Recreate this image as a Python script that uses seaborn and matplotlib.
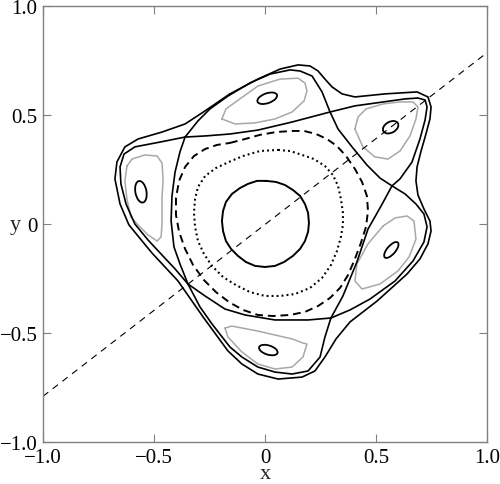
import matplotlib
matplotlib.use("Agg")
import matplotlib.pyplot as plt
import seaborn as sns
from matplotlib.patches import Ellipse

# --- invariant curves (data units) ---
inner_x = [0.005, 0.050, 0.090, 0.126, 0.158, 0.180, 0.194, 0.198, 0.194, 0.180, 0.158, 0.126,
           0.086, 0.045, 0.000, -0.045, -0.086, -0.122, -0.153, -0.176, -0.189, -0.194,
           -0.189, -0.176, -0.149, -0.113, -0.077, -0.036]
inner_y = [0.200, 0.195, 0.181, 0.158, 0.131, 0.094, 0.053, 0.007, -0.034, -0.076, -0.112,
           -0.144, -0.172, -0.190, -0.195, -0.190, -0.172, -0.144, -0.112, -0.076, -0.030,
           0.016, 0.062, 0.103, 0.140, 0.167, 0.186, 0.200]

dotted_x = [0.059, 0.113, 0.167, 0.221, 0.270, 0.306, 0.329, 0.342, 0.351, 0.351, 0.342, 0.324,
            0.297, 0.257, 0.203, 0.135, 0.068, 0.000, -0.068, -0.131, -0.189, -0.239, -0.275,
            -0.302, -0.315, -0.320, -0.315, -0.302, -0.270, -0.221, -0.162, -0.099, -0.023]
dotted_y = [0.342, 0.337, 0.319, 0.300, 0.268, 0.227, 0.177, 0.117, 0.053, -0.002, -0.057,
            -0.122, -0.186, -0.245, -0.291, -0.319, -0.328, -0.328, -0.310, -0.278, -0.241,
            -0.190, -0.135, -0.076, -0.011, 0.053, 0.117, 0.172, 0.222, 0.259, 0.287, 0.314,
            0.337]

dashed_x = [-0.158, -0.090, -0.023, 0.050, 0.122, 0.176, 0.230, 0.279, 0.324, 0.365, 0.405,
            0.437, 0.459, 0.464, 0.455, 0.432, 0.405, 0.374, 0.338, 0.293, 0.239, 0.180,
            0.113, 0.036, -0.032, -0.099, -0.162, -0.221, -0.275, -0.324, -0.360, -0.387,
            -0.401, -0.401, -0.387, -0.360, -0.320, -0.270, -0.216]
dashed_y = [0.374, 0.392, 0.411, 0.424, 0.429, 0.429, 0.415, 0.392, 0.360, 0.314, 0.255,
            0.195, 0.131, 0.062, -0.011, -0.085, -0.158, -0.232, -0.291, -0.337, -0.374,
            -0.401, -0.415, -0.420, -0.415, -0.392, -0.356, -0.310, -0.255, -0.186, -0.112,
            -0.034, 0.044, 0.122, 0.200, 0.264, 0.314, 0.346, 0.365]

outer_x = [-0.158, -0.032, 0.068, 0.149, 0.203, 0.239, 0.270, 0.302, 0.347, 0.405, 0.541,
           0.685, 0.734, 0.748, 0.743, 0.725, 0.703, 0.685, 0.680, 0.689, 0.716, 0.743,
           0.748, 0.734, 0.698, 0.640, 0.505, 0.383, 0.320, 0.270, 0.225, 0.167, 0.059,
           -0.032, -0.104, -0.167, -0.279, -0.392, -0.509, -0.613, -0.653, -0.676, -0.667,
           -0.631, -0.572, -0.464, -0.360, -0.270]
outer_y = [0.599, 0.667, 0.713, 0.732, 0.727, 0.704, 0.667, 0.631, 0.599, 0.585, 0.599,
           0.608, 0.585, 0.539, 0.484, 0.415, 0.337, 0.264, 0.200, 0.135, 0.071, 0.016,
           -0.030, -0.089, -0.158, -0.227, -0.351, -0.447, -0.525, -0.608, -0.672, -0.700,
           -0.709, -0.686, -0.640, -0.580, -0.424, -0.259, -0.131, -0.002, 0.094, 0.209,
           0.287, 0.356, 0.392, 0.424, 0.461, 0.521]

# separatrix arcs between the five hyperbolic points
sep_arcs = {
    "top_in": ([-0.360, -0.270, -0.158, -0.032, 0.122, 0.293],
               [0.401, 0.406, 0.415, 0.433, 0.470, 0.516]),
    "top_out": ([0.293, 0.257, 0.212, 0.158, 0.113, 0.023, -0.068, -0.167, -0.248, -0.302, -0.360],
                [0.516, 0.608, 0.681, 0.704, 0.709, 0.690, 0.649, 0.589, 0.530, 0.475, 0.401]),
    "ur_in": ([0.572, 0.518, 0.459, 0.392, 0.329, 0.293],
              [0.177, 0.213, 0.273, 0.356, 0.438, 0.516]),
    "ur_out": ([0.293, 0.405, 0.532, 0.631, 0.689, 0.721, 0.730, 0.721, 0.698, 0.662, 0.608, 0.572],
               [0.516, 0.544, 0.562, 0.576, 0.580, 0.571, 0.539, 0.479, 0.392, 0.286, 0.209, 0.177]),
    "lr_in": ([0.572, 0.523, 0.464, 0.414, 0.351, 0.297],
              [0.177, 0.085, -0.021, -0.172, -0.328, -0.429]),
    "lr_out": ([0.297, 0.383, 0.473, 0.586, 0.667, 0.716, 0.730, 0.716, 0.680, 0.631, 0.572],
               [-0.429, -0.392, -0.342, -0.259, -0.167, -0.080, -0.011, 0.048, 0.094, 0.140, 0.177]),
    "bot_in": ([-0.347, -0.270, -0.180, -0.090, 0.045, 0.194, 0.297],
               [-0.273, -0.328, -0.388, -0.415, -0.438, -0.438, -0.429]),
    "bot_out": ([0.297, 0.270, 0.248, 0.194, 0.122, 0.045, -0.032, -0.104, -0.158, -0.239, -0.293, -0.347],
                [-0.429, -0.516, -0.608, -0.672, -0.686, -0.677, -0.654, -0.608, -0.562, -0.456, -0.378, -0.273]),
    "left_in": ([-0.360, -0.383, -0.405, -0.419, -0.423, -0.410, -0.383, -0.347],
                [0.401, 0.333, 0.241, 0.131, 0.016, -0.103, -0.181, -0.273]),
    "left_out": ([-0.347, -0.405, -0.464, -0.527, -0.586, -0.626, -0.649, -0.653, -0.635, -0.586, -0.473, -0.360],
                 [-0.273, -0.204, -0.140, -0.071, 0.002, 0.094, 0.186, 0.264, 0.323, 0.356, 0.378, 0.401]),
}

# gray island boundaries
island_curves = {
    "top": ([-0.194, -0.176, -0.113, -0.032, 0.068, 0.149, 0.180, 0.189, 0.176, 0.122, 0.045, -0.045, -0.135],
            [0.484, 0.530, 0.576, 0.635, 0.667, 0.671, 0.649, 0.612, 0.567, 0.516, 0.484, 0.466, 0.461]),
    "ur": ([0.405, 0.419, 0.455, 0.532, 0.608, 0.667, 0.689, 0.680, 0.653, 0.608, 0.554, 0.495, 0.441],
           [0.438, 0.493, 0.530, 0.553, 0.562, 0.562, 0.539, 0.484, 0.406, 0.337, 0.300, 0.310, 0.356]),
    "lr": ([0.532, 0.586, 0.640, 0.671, 0.680, 0.649, 0.599, 0.518, 0.437, 0.405, 0.414, 0.464],
           [-0.007, 0.030, 0.039, 0.016, -0.067, -0.149, -0.213, -0.273, -0.296, -0.259, -0.181, -0.089]),
    "bot": ([-0.180, -0.149, -0.032, 0.122, 0.171, 0.189, 0.171, 0.122, 0.045, -0.032, -0.104, -0.167],
            [-0.475, -0.466, -0.489, -0.525, -0.544, -0.548, -0.608, -0.654, -0.663, -0.640, -0.585, -0.516]),
    "left": ([-0.622, -0.599, -0.541, -0.486, -0.464, -0.459, -0.464, -0.464, -0.468, -0.486, -0.527,
              -0.572, -0.604, -0.622, -0.631],
             [0.268, 0.300, 0.319, 0.314, 0.282, 0.209, 0.117, 0.002, -0.057, -0.076, -0.048,
              -0.002, 0.034, 0.117, 0.200]),
}

# small orbits at the island centres
core_cx = [0.010, 0.566, 0.569, 0.015, -0.559]
core_cy = [0.579, 0.446, -0.117, -0.576, 0.150]
core_w = [0.093, 0.075, 0.090, 0.087, 0.100]
core_h = [0.045, 0.050, 0.038, 0.042, 0.050]
core_angle = [20, 30, 50, -18, 100]

diag_x = [-1.0, 1.0]
diag_y = [-0.788, 0.788]

ticks = [-1.0, -0.5, 0.0, 0.5, 1.0]
tick_labels = ["\u22121.0", "\u22120.5", "0", "0.5", "1.0"]


def closed(xs, ys):
    return list(xs) + [xs[0]], list(ys) + [ys[0]]


def curve(xs, ys, ax, **kw):
    sns.lineplot(x=xs, y=ys, sort=False, estimator=None, ax=ax,
                 solid_joinstyle="round", dash_joinstyle="round", **kw)


sns.set_theme(style="ticks")
plt.rcParams["font.family"] = ["Liberation Serif", "DejaVu Serif"]

fig = plt.figure(figsize=(5.0, 4.85), dpi=100)
ax = fig.add_axes([0.086, 0.0856, 0.888, 0.899])

gray = "#a8a8a8"
for name, (xs, ys) in island_curves.items():
    curve(*closed(xs, ys), ax, color=gray, lw=1.1)

for cx, cy, w, h, a in zip(core_cx, core_cy, core_w, core_h, core_angle):
    ax.add_patch(Ellipse((cx, cy), w, h, angle=a, fill=False, ec="black", lw=1.3))

for name, (xs, ys) in sep_arcs.items():
    curve(xs, ys, ax, color="black", lw=1.2)

curve(*closed(outer_x, outer_y), ax, color="black", lw=1.2)
curve(*closed(inner_x, inner_y), ax, color="black", lw=1.4)
curve(*closed(dotted_x, dotted_y), ax, color="black", lw=1.5, linestyle=(0, (0.9, 1.5)))
curve(*closed(dashed_x, dashed_y), ax, color="black", lw=1.4, linestyle=(0, (4, 2.5)))
curve(diag_x, diag_y, ax, color="black", lw=0.8, linestyle=(0, (6, 5)))

ax.set_xlim(-1, 1)
ax.set_ylim(-1, 1)
ax.set_xticks(ticks)
ax.set_xticklabels(tick_labels)
ax.set_yticks(ticks)
ax.set_yticklabels(tick_labels)
ax.tick_params(direction="in", length=6, width=0.8, color="#808080", labelcolor="black",
               top=True, right=True, labelsize=15, pad=4)
for sp in ax.spines.values():
    sp.set_color("#808080")
    sp.set_linewidth(1.0)
    sp.set_visible(True)

ax.set_xlabel("x", fontsize=16)
ax.xaxis.set_label_coords(0.5, -0.05)
ax.set_ylabel("y", fontsize=16, rotation=0, ha="center", va="center")
ax.yaxis.set_label_coords(-0.063, 0.5)

fig.savefig("out.png", dpi=100)
